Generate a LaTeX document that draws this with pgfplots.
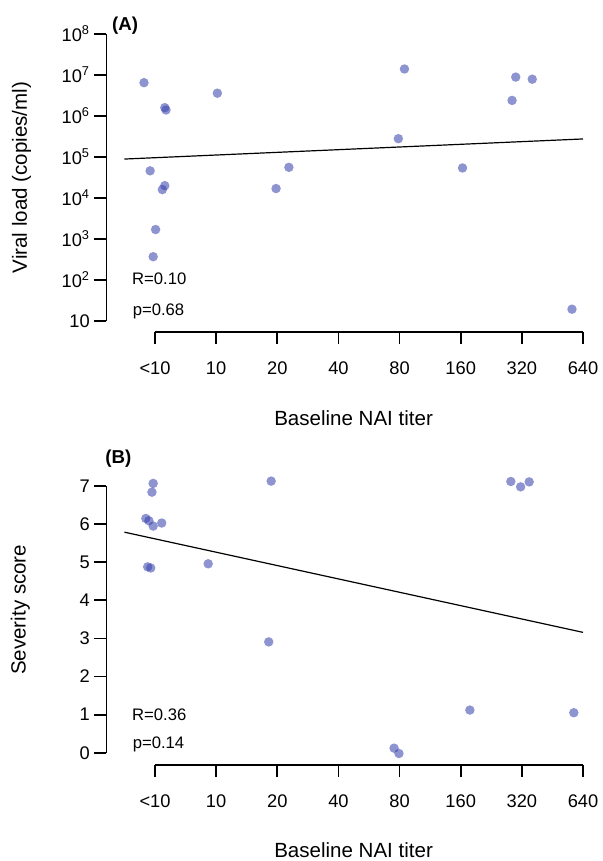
\documentclass[border=0pt]{standalone}
\usepackage{fontspec}
\setmainfont{Liberation Sans}
\usepackage{pgfplots}
\pgfplotsset{compat=1.18}

\definecolor{ptcol}{RGB}{50,60,170}

\pgfplotsset{
  rstyle/.style={
    scale only axis, width=321pt, clip=false,
    xmin=0, xmax=7, enlargelimits=false,
    axis lines=left, axis line style={-, line width=1.3pt},
    tick align=outside, major tick length=9pt,
    tick style={black, line width=1.3pt},
    /pgf/number format/assume math mode=true,
    xtick={0,1,2,3,4,5,6,7},
    xticklabels={<10,10,20,40,80,160,320,640},
    tick label style={font=\fontsize{13.7}{16}\selectfont},
    xticklabel style={yshift=-10pt},
    label style={font=\fontsize{15.4}{18}\selectfont},
    axis y line shift=36.4pt,
  },
  pts/.style={only marks, mark=*, mark size=3.55pt,
    mark options={draw opacity=0, fill=ptcol, fill opacity=0.55}},
}

\begin{document}
\begin{tikzpicture}
\path[use as bounding box] (0,0) rectangle (452.25pt,645.75pt);

% panel A
\begin{axis}[rstyle,
  at={(116.25pt,405pt)}, anchor=south west,
  height=215.25pt,
  ymode=log, ymin=10, ymax=1e8, yminorticks=false,
  ytick={10,100,1000,10000,100000,1000000,10000000,100000000},
  yticklabels={10,10\textsuperscript{2},10\textsuperscript{3},10\textsuperscript{4},10\textsuperscript{5},10\textsuperscript{6},10\textsuperscript{7},10\textsuperscript{8}},
  axis x line shift=8.25pt,
  xlabel={Baseline NAI titer},
  xlabel style={at={([yshift=-72.75pt]rel axis cs:0.464,0)}, anchor=center},
  ylabel={Viral load (copies/ml)},
  ylabel style={at={([xshift=-100pt]rel axis cs:0,0.5)}, anchor=center},
]
\addplot[pts] coordinates {
  (-0.18,6.5e6) (0.16,1.6e6) (0.18,1.4e6) (1.02,3.6e6)
  (-0.08,4.6e4) (0.16,2.0e4) (0.12,1.6e4) (0.01,1.7e3) (-0.03,370)
  (2.19,5.6e4) (1.98,1.7e4) (4.08,1.4e7) (3.98,2.8e5) (5.03,5.4e4)
  (5.90,8.9e6) (6.17,7.9e6) (5.84,2.4e6) (6.82,19.4)
};
\addplot[black, line width=0.9pt] coordinates {(-0.5,89125) (7,275400)};
\node[font=\bfseries\fontsize{14}{16}\selectfont] at (axis cs:-0.49,1.57e8) {(A)};
\node[anchor=west, font=\fontsize{12.5}{14}\selectfont] at (axis cs:-0.45,105.7) {R=0.10};
\node[anchor=west, font=\fontsize{12.5}{14}\selectfont] at (axis cs:-0.44,17.5) {p=0.68};
\end{axis}

% panel B
\begin{axis}[rstyle,
  at={(116.25pt,81.2pt)}, anchor=south west,
  height=200pt,
  ymin=0, ymax=7, ytick={0,1,2,3,4,5,6,7},
  axis x line shift=9.2pt,
  xlabel={Baseline NAI titer},
  xlabel style={at={([yshift=-73pt]rel axis cs:0.464,0)}, anchor=center, inner sep=1pt},
  ylabel={Severity score},
  ylabel style={at={([xshift=-101pt]rel axis cs:0,0.536)}, anchor=center},
]
\addplot[pts] coordinates {
  (-0.03,7.07) (-0.05,6.84) (-0.15,6.15) (-0.10,6.09) (-0.03,5.95)
  (0.11,6.03) (-0.12,4.88) (-0.07,4.85) (0.87,4.96) (1.90,7.13)
  (1.86,2.91) (5.82,7.12) (5.98,6.98) (6.12,7.11) (5.15,1.12)
  (6.85,1.05) (3.91,0.12) (3.99,-0.02)
};
\addplot[black, line width=0.9pt] coordinates {(-0.5,5.79) (7,3.16)};
\node[font=\bfseries\fontsize{14}{16}\selectfont] at (axis cs:-0.6,7.73) {(B)};
\node[anchor=west, font=\fontsize{12.5}{14}\selectfont] at (axis cs:-0.45,0.99) {R=0.36};
\node[anchor=west, font=\fontsize{12.5}{14}\selectfont] at (axis cs:-0.44,0.23) {p=0.14};
\end{axis}
\end{tikzpicture}
\end{document}
